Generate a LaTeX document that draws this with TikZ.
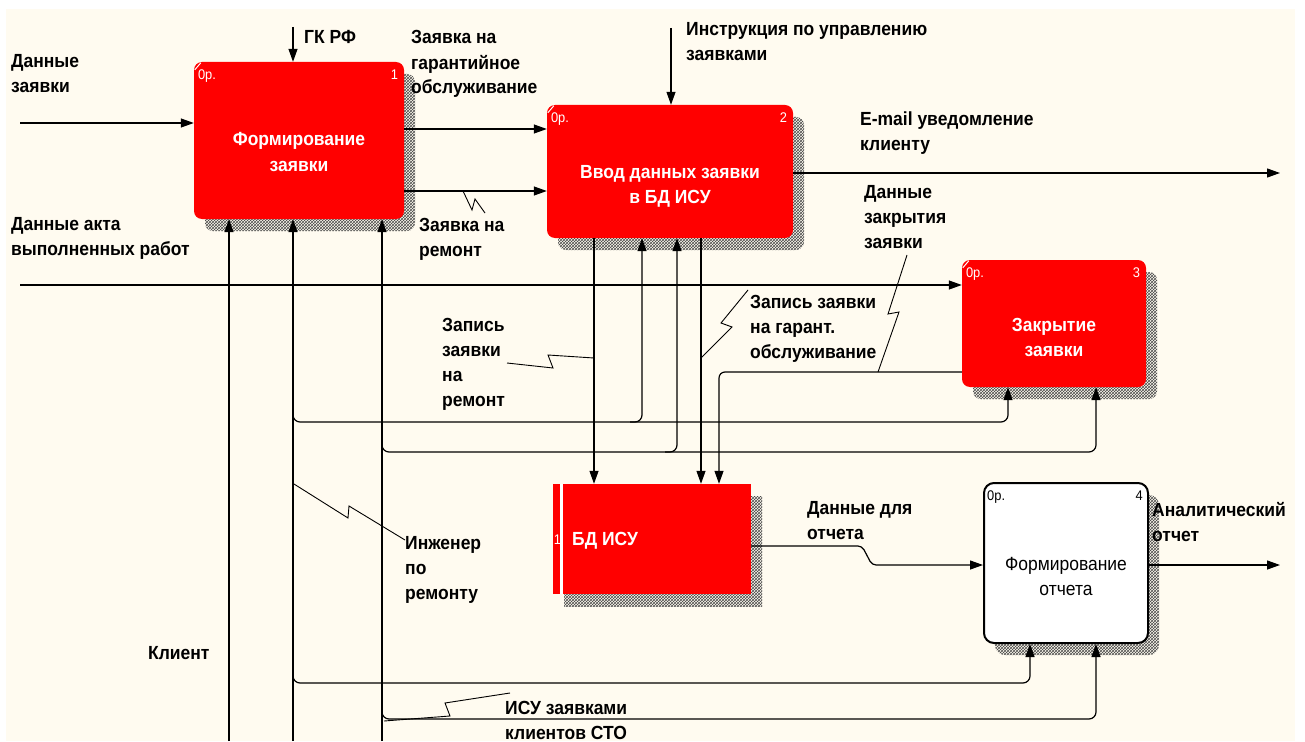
\documentclass[tikz,border=0pt]{standalone}
\usepackage{fontspec}
\setmainfont{Liberation Sans}[FakeStretch=0.92]
\usetikzlibrary{arrows.meta,patterns,shadows,calc}
\definecolor{cream}{RGB}{255,251,240}
\definecolor{idefred}{RGB}{255,0,0}
\begin{document}
\begin{tikzpicture}[x=1pt,y=-1pt,
  lbl/.style={font=\fontsize{19}{25}\selectfont\bfseries, anchor=base west, align=left, inner sep=0pt},
  boxtxt/.style={font=\fontsize{19}{25}\selectfont\bfseries, text=white, anchor=base, align=center, inner sep=0pt},
  optxt/.style={font=\fontsize{14}{14}\selectfont, inner sep=0pt},
  idshadow/.style={drop shadow={shadow xshift=11pt,shadow yshift=-12pt,opacity=1,fill=none,pattern=crosshatch,pattern color=black!70}},
  actbox/.style={rectangle, fill=idefred, rounded corners=8pt, inner sep=0pt, idshadow},
  arr/.style={line width=1.2pt, -{Triangle[length=13pt,width=9pt]}},
  ln/.style={line width=1.2pt},
  sq/.style={line width=0.9pt},
  tick/.style={white, line width=1pt}
]
\useasboundingbox (0,0) rectangle (1305,741);
\fill[white] (0,0) rectangle (1305,741);
\fill[cream] (6,9) rectangle (1295,741);

% boxes
\node[actbox, minimum width=210pt, minimum height=157pt] (b1) at (299,140.5) {};
\node[actbox, minimum width=246pt, minimum height=133pt] (b2) at (670,171.5) {};
\node[actbox, minimum width=184pt, minimum height=127pt] (b3) at (1054,323.5) {};
\node[rectangle, fill=idefred, inner sep=0pt, minimum width=198pt, minimum height=110pt, idshadow] (bd) at (652,539) {};
\fill[white] (560,484) rectangle (563,594);
\node[rectangle, fill=white, draw=black, line width=2pt, rounded corners=10pt, inner sep=0pt, minimum width=164pt, minimum height=160pt, idshadow] (b4) at (1066,563) {};

% box texts (anchor base = last line)
\node[boxtxt] (t1) at (299,171) {Формирование\\заявки};
\node[boxtxt] (t2) at (670,203) {Ввод данных заявки\\в БД ИСУ};
\node[boxtxt] (t3) at (1054,356) {Закрытие\\заявки};
\node[boxtxt, text=black, font=\fontsize{19}{25}\selectfont] (t4) at (1066,595) {Формирование\\отчета};
\node[boxtxt, anchor=base west] (tbd) at (572,545) {БД ИСУ};
\node[optxt, text=white, anchor=base] (tbd1) at (557.5,544) {1};

% corner labels
\node[optxt, text=white, anchor=base west] (o1) at ($(b1.north west)+(4,18)$) {0р.};
\node[optxt, text=white, anchor=base east] (n1) at ($(b1.north east)+(-6,18)$) {1};
\node[optxt, text=white, anchor=base west] (o2) at ($(b2.north west)+(4,18)$) {0р.};
\node[optxt, text=white, anchor=base east] (n2) at ($(b2.north east)+(-6,18)$) {2};
\node[optxt, text=white, anchor=base west] (o3) at ($(b3.north west)+(4,18)$) {0р.};
\node[optxt, text=white, anchor=base east] (n3) at ($(b3.north east)+(-6,18)$) {3};
\node[optxt, text=black, anchor=base west] (o4) at ($(b4.north west)+(4,18)$) {0р.};
\node[optxt, text=black, anchor=base east] (n4) at ($(b4.north east)+(-6,18)$) {4};
\draw[tick] ($(b1.north west)+(1,8)$) -- ($(b1.north west)+(7,1)$);
\draw[tick] ($(b2.north west)+(1,8)$) -- ($(b2.north west)+(7,1)$);
\draw[tick] ($(b3.north west)+(1,8)$) -- ($(b3.north west)+(7,1)$);

% inputs / controls / outputs
\coordinate (inA) at (20,123);
\draw[arr] (inA) -- (inA -| b1.west);
\coordinate (gk) at (293,27);
\draw[arr] (gk) -- (gk |- b1.north);
\coordinate (yA) at (0,129);
\draw[arr] (b1.east |- yA) -- (b2.west |- yA);
\coordinate (yB) at (0,191);
\draw[arr] (b1.east |- yB) -- (b2.west |- yB);
\coordinate (ins) at (671,28);
\draw[arr] (ins) -- (ins |- b2.north);
\coordinate (em) at (1280,173);
\draw[arr] (b2.east |- em) -- (em);
\coordinate (inB) at (20,285);
\draw[arr] (inB) -- (inB -| b3.west);
\coordinate (xa) at (594,0);
\draw[arr] (xa |- b2.south) -- (xa |- bd.north);
\coordinate (xb) at (701,0);
\draw[arr] (xb |- b2.south) -- (xb |- bd.north);
\coordinate (yc) at (0,372);
\coordinate (xc) at (719,0);
\draw[arr, rounded corners=6pt] (b3.west |- yc) -- (xc |- yc) -- (xc |- bd.north);

% mechanisms
\coordinate (m1) at (229,741);
\coordinate (m2) at (293,741);
\coordinate (m3) at (382,741);
\draw[arr] (m1) -- (m1 |- b1.south);
\draw[arr] (m2) -- (m2 |- b1.south);
\draw[arr] (m3) -- (m3 |- b1.south);

\coordinate (y1) at (0,422);
\coordinate (y2) at (0,452);
\coordinate (y3) at (0,683);
\coordinate (y4) at (0,719);
\coordinate (x1) at (1008,0);
\coordinate (x2) at (642,0);
\coordinate (x3) at (1096,0);
\coordinate (x4) at (677,0);
\coordinate (x5) at (1030,0);

\draw[arr, rounded corners=7pt] ($(m2 |- y1)+(0,-12)$) -- (m2 |- y1) -- (x1 |- y1) -- (x1 |- b3.south);
\draw[arr, rounded corners=7pt] ($(x2 |- y1)+(-12,0)$) -- (x2 |- y1) -- (x2 |- b2.south);
\draw[arr, rounded corners=7pt] ($(m3 |- y2)+(0,-12)$) -- (m3 |- y2) -- (x3 |- y2) -- (x3 |- b3.south);
\draw[arr, rounded corners=7pt] ($(x4 |- y2)+(-12,0)$) -- (x4 |- y2) -- (x4 |- b2.south);
\draw[arr, rounded corners=7pt] ($(m2 |- y3)+(0,-12)$) -- (m2 |- y3) -- (x5 |- y3) -- (x5 |- b4.south);
\draw[arr, rounded corners=7pt] ($(m3 |- y4)+(0,-12)$) -- (m3 |- y4) -- (x3 |- y4) -- (x3 |- b4.south);

% BD -> box 4 -> out
\coordinate (y5) at (0,546);
\coordinate (y6) at (0,565);
\coordinate (s1) at (862,546);
\coordinate (s2) at (872,565);
\coordinate (ao) at (1280,565);
\draw[arr, rounded corners=4pt] (bd.east |- y5) -- (s1) -- (s2) -- (b4.west |- y6);
\draw[arr] (b4.east |- ao) -- (ao);

% label squiggles
\draw[sq] (463,191) -- (472,210) -- (475,199) -- (485,213);
\draw[sq] (907,255) -- (888,314) -- (899,312) -- (878,372);
\draw[sq] (748,290) -- (721,323) -- (732,327) -- (701,358);
\draw[sq] (507,363) -- (553,368) -- (548,355) -- (594,358);
\draw[sq] (294,484) -- (348,518) -- (349,506) -- (405,540);
\draw[sq] (510,693) -- (445,703) -- (450,716) -- (384,721);

% labels (anchor base = baseline of last line)
\node[lbl] (l1) at (11,93) {Данные\\заявки};
\node[lbl] (l2) at (304,44) {ГК РФ};
\node[lbl] (l3) at (411,94) {Заявка на\\гарантийное\\обслуживание};
\node[lbl] (l4) at (419,256) {Заявка на\\ремонт};
\node[lbl] (l5) at (11,255) {Данные акта\\выполненных работ};
\node[lbl] (l6) at (686,61) {Инструкция по управлению\\заявками};
\node[lbl] (l7) at (860,150) {E-mail уведомление\\клиенту};
\node[lbl] (l8) at (864,248) {Данные\\закрытия\\заявки};
\node[lbl] (l9) at (750,358) {Запись заявки\\на гарант.\\обслуживание};
\node[lbl] (l10) at (442,406) {Запись\\заявки\\на\\ремонт};
\node[lbl] (l11) at (405,599) {Инженер\\по\\ремонту};
\node[lbl] (l12) at (148,659) {Клиент};
\node[lbl] (l13) at (505,739) {ИСУ заявками\\клиентов СТО};
\node[lbl] (l14) at (807,539) {Данные для\\отчета};
\node[lbl] (l15) at (1152,541) {Аналитический\\отчет};
\end{tikzpicture}
\end{document}
